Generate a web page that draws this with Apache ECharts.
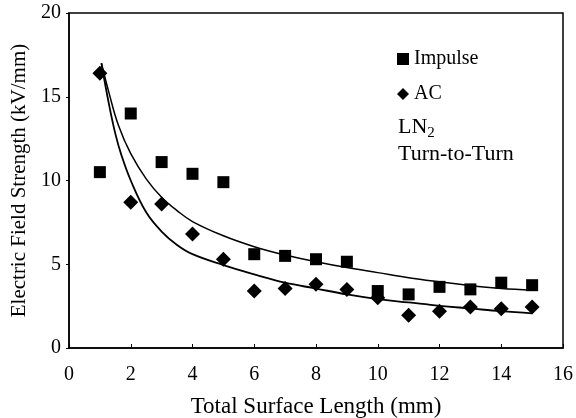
<!doctype html>
<html lang="en">
  <head>
    <meta charset="utf-8">
    <title>Electric Field Strength vs Total Surface Length</title>
    <script src="https://cdn.jsdelivr.net/npm/echarts@6/dist/echarts.min.js"></script>
    <style>
      body { margin: 0; background: #fff; }
      #chart { width: 576px; height: 418px; }
    </style>
  </head>
  <body>
    <div id="chart"></div>
  <script>
    // measured points
    var lengths = [1, 2, 3, 4, 5, 6, 7, 8, 9, 10, 11, 12, 13, 14, 15];
    var impulse = [10.5, 14.0, 11.1, 10.4, 9.9, 5.6, 5.5, 5.3, 5.15, 3.4, 3.2, 3.65, 3.5, 3.9, 3.75];
    var ac = [16.4, 8.7, 8.6, 6.8, 5.3, 3.4, 3.55, 3.8, 3.5, 3.0, 1.95, 2.2, 2.45, 2.35, 2.45];

    // fitted curves
    var impulseFitX = [1.05, 1.3, 1.6, 2, 2.5, 3, 3.5, 4, 5, 6, 7, 8, 9, 10, 11, 12, 13, 14, 15];
    var impulseFitY = [17.0, 15.2, 13.3, 11.6, 10.1, 9.0, 8.2, 7.55, 6.7, 6.05, 5.55, 5.15, 4.8, 4.5, 4.2, 3.95, 3.72, 3.55, 3.45];
    var acFitX = [1.05, 1.3, 1.5, 1.7, 2, 2.5, 3, 3.5, 4, 5, 6, 7, 8, 9, 10, 11, 12, 13, 14, 15];
    var acFitY = [17.0, 14.5, 12.8, 11.5, 10.0, 8.1, 6.95, 6.15, 5.6, 4.95, 4.4, 3.9, 3.55, 3.2, 2.92, 2.72, 2.52, 2.36, 2.2, 2.07];

    function pairs(xs, ys) {
      var out = [];
      for (var i = 0; i < xs.length; i++) out.push([xs[i], ys[i]]);
      return out;
    }

    var font = 'Liberation Serif';
    var chart = echarts.init(document.getElementById('chart'), null, { renderer: 'canvas' });

    var option = {
      animation: false,
      textStyle: { fontFamily: font, color: '#000' },
      grid: {
        left: 69, right: 13, top: 13, bottom: 70,
        outerBoundsMode: 'none', containLabel: false,
        show: true, borderColor: '#000', borderWidth: 1.5
      },
      legend: {
        orient: 'vertical',
        left: 397, top: 49, padding: 0,
        itemWidth: 12, itemHeight: 12, itemGap: 15,
        textStyle: { fontFamily: font, fontSize: 20, color: '#000' },
        data: [
          { name: 'Impulse', icon: 'rect' },
          { name: 'AC', icon: 'diamond' }
        ]
      },
      xAxis: {
        type: 'value', min: 0, max: 16, interval: 2,
        name: 'Total Surface Length (mm)', nameLocation: 'middle', nameGap: 47,
        nameTextStyle: { fontFamily: font, fontSize: 23, color: '#000' },
        axisLine: { lineStyle: { color: '#000', width: 1.5 } },
        axisTick: { inside: true, length: 4, lineStyle: { color: '#000' } },
        axisLabel: { fontFamily: font, fontSize: 20, color: '#000', margin: 17 },
        splitLine: { show: false }
      },
      yAxis: {
        type: 'value', min: 0, max: 20, interval: 5,
        name: 'Electric Field Strength (kV/mm)', nameLocation: 'middle', nameGap: 39,
        nameTextStyle: { fontFamily: font, fontSize: 21, color: '#000' },
        axisLine: { lineStyle: { color: '#000', width: 1.5 } },
        axisTick: { length: 3, lineStyle: { color: '#000' } },
        axisLabel: { fontFamily: font, fontSize: 20, color: '#000', margin: 8 },
        splitLine: { show: false }
      },
      graphic: [{
        type: 'text', left: 398, top: 114,
        style: {
          text: '{a|LN}{s|2}\n{a|Turn-to-Turn}',
          fontFamily: font, fontSize: 22, fill: '#000',
          rich: {
            a: { fontFamily: font, fontSize: 22, fill: '#000', lineHeight: 27 },
            s: { fontFamily: font, fontSize: 15, fill: '#000', lineHeight: 27, padding: [12, 0, 0, 0] }
          }
        }
      }],
      series: [
        {
          name: 'Impulse', type: 'scatter', symbol: 'rect', symbolSize: 12,
          itemStyle: { color: '#000', opacity: 1 }, data: pairs(lengths, impulse), z: 3
        },
        {
          name: 'AC', type: 'scatter', symbol: 'diamond', symbolSize: 15,
          itemStyle: { color: '#000', opacity: 1 }, data: pairs(lengths, ac), z: 3
        },
        {
          name: 'Impulse fit', type: 'line', smooth: 0.4, showSymbol: false,
          lineStyle: { color: '#000', width: 1.5 }, data: pairs(impulseFitX, impulseFitY)
        },
        {
          name: 'AC fit', type: 'line', smooth: 0.4, showSymbol: false,
          lineStyle: { color: '#000', width: 1.8 }, data: pairs(acFitX, acFitY)
        }
      ]
    };

    chart.setOption(option);
  </script>
  </body>
</html>
